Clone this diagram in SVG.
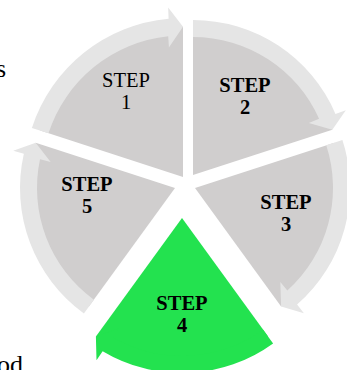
<svg xmlns="http://www.w3.org/2000/svg" xmlns:xlink="http://www.w3.org/1999/xlink" width="347" height="370" viewBox="0 0 347 370">
  <style>
    .wedge { fill: #d0cece; }
    .band { fill: #e5e5e5; }
    .active { fill: #23e24f; }
    .lbl { font-family: "Liberation Serif", "Times New Roman", serif; font-size: 20.5px; fill: #000; text-anchor: middle; }
    .b { font-weight: bold; }
    .frag { font-family: "Liberation Serif", "Times New Roman", serif; font-size: 26px; fill: #000; }
  </style>
  <defs>
    <!-- pie slice from 198deg to 270deg, apex at origin -->
    <path id="wedge" d="M0,0 L-139.33,-45.27 A146.5,146.5 0 0 1 0,-146.5 Z"/>
    <!-- curved arrow band along the outer rim of the slice, head at 270deg -->
    <path id="band" d="M-147.41,-47.90 A155,155 0 0 1 -14.05,-154.36 L-14.47,-165.37 L0,-146.5 L-13.72,-126.26 L-14.43,-137.24 A138,138 0 0 0 -131.25,-42.64 Z"/>
  </defs>

  <!-- cut-off surrounding text -->
  <text class="frag" x="6" y="77" text-anchor="end">s</text>
  <text class="frag" x="-3" y="373">od</text>

  <g id="step1">
    <use xlink:href="#wedge" class="wedge" transform="translate(183,177) scale(1.025)"/>
    <text class="lbl"><tspan x="126" y="86.5">STEP</tspan><tspan x="126" y="109">1</tspan></text>
  </g>
  <g id="step2">
    <use xlink:href="#wedge" class="wedge" transform="translate(193,175) rotate(72)"/>
    <text class="lbl b"><tspan x="245" y="91.5">STEP</tspan><tspan x="245" y="114">2</tspan></text>
  </g>
  <g id="step3">
    <use xlink:href="#wedge" class="wedge" transform="translate(195,188) rotate(144)"/>
    <text class="lbl b"><tspan x="286" y="208.5">STEP</tspan><tspan x="286" y="231">3</tspan></text>
  </g>
  <g id="step4">
    <use xlink:href="#wedge" class="active" transform="translate(182,218) rotate(216)"/>
    <use xlink:href="#band" class="active" transform="translate(182,218) rotate(216)"/>
    <text class="lbl b"><tspan x="182" y="309.5">STEP</tspan><tspan x="182" y="332">4</tspan></text>
  </g>
  <g id="step5">
    <use xlink:href="#wedge" class="wedge" transform="translate(175,188) rotate(288)"/>
    <text class="lbl b"><tspan x="87" y="190.5">STEP</tspan><tspan x="87" y="213">5</tspan></text>
  </g>

  <g id="connectors">
    <use xlink:href="#band" class="band" transform="translate(183,177) scale(1.025)"/>
    <use xlink:href="#band" class="band" transform="translate(193,175) rotate(72)"/>
    <use xlink:href="#band" class="band" transform="translate(195,188) rotate(144)"/>
    <use xlink:href="#band" class="band" transform="translate(175,188) rotate(288)"/>
  </g>
</svg>
